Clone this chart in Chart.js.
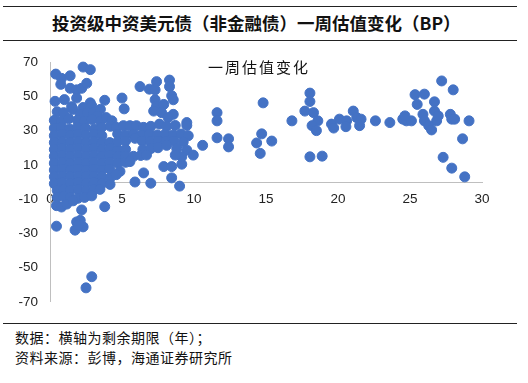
<!DOCTYPE html>
<html>
<head>
<meta charset="utf-8">
<script src="https://cdn.jsdelivr.net/npm/chart.js@4"></script>
<style>
  body { margin: 0; background: #fff; width: 528px; height: 383px; position: relative; overflow: hidden;
         font-family: "Noto Sans CJK SC", sans-serif; color: #111; }
  .rule { position: absolute; left: 3px; width: 514px; height: 1px; background: #222; }
  #title { position: absolute; left: 52px; top: 12px; font-size: 17.5px; font-weight: bold; white-space: nowrap; line-height: 22px; }
  #inner { position: absolute; left: 208px; top: 57px; font-size: 15px; letter-spacing: 2px; white-space: nowrap; line-height: 20px; }
  .note { position: absolute; left: 15px; font-size: 14px; letter-spacing: 0.5px; white-space: nowrap; line-height: 18px; }
  #wrap { position: absolute; left: 0; top: 42px; width: 528px; height: 280px; }
</style>
</head>
<body>
<div class="rule" style="top:6px"></div>
<div id="title">投资级中资美元债（非金融债）一周估值变化（BP）</div>
<div class="rule" style="top:40px"></div>
<div id="wrap"><canvas id="chart" width="528" height="280"></canvas></div>
<div id="inner">一周估值变化</div>
<div class="rule" style="top:323px"></div>
<div class="note" style="top:328px">数据：横轴为剩余期限（年）；</div>
<div class="note" style="top:348px">资料来源：彭博，海通证券研究所</div>
<script>
// [剩余期限(年), 一周估值变化(BP)]
const shortTop = [
  [0.4, 63], [0.8, 60.5], [1.4, 62], [2.3, 67.1], [2.8, 65.6],
  [0.75, 57], [1.4, 54.7], [1.85, 53.8], [2.2, 54.7], [2.55, 57.6],
  [0.35, 47.1], [1.0, 48.1], [1.85, 49], [2.8, 46.2], [3.8, 47.7],
  [1.5, 44], [2.3, 43.5], [2.9, 44.5]
];

const shortCore = [
  [0.5, 41], [0.95, 40.5], [1.6, 42.4], [2.1, 39.5], [2.6, 40.5], [3.0, 40.5], [3.5, 42.4], [3.3, 38.5],
  [0.3, 36], [0.8, 35.5], [1.3, 37], [1.9, 36], [2.4, 35.5], [2.9, 36.5], [3.5, 35.5], [3.9, 37.6], [4.3, 35.7],
  [0.3, 31.5], [0.8, 32], [1.35, 31], [1.9, 32], [2.45, 31.5], [3.1, 31], [3.6, 32], [4.2, 32.5], [4.6, 31.9],
  [0.3, 27], [0.85, 28], [1.4, 27], [1.95, 28], [2.5, 27], [3.05, 28], [3.6, 27],
  [0.3, 23], [0.85, 23.5], [1.4, 23], [1.95, 23.5], [2.5, 23], [3.05, 23.5], [3.6, 23], [4.15, 23],
  [0.3, 19], [0.85, 19.5], [1.4, 19], [1.95, 19.5], [2.5, 19], [3.05, 19.5], [3.6, 19], [4.15, 19.5], [4.7, 19],
  [0.3, 15], [0.85, 15.5], [1.4, 15], [1.95, 15.5], [2.5, 15], [3.05, 15.5], [3.6, 15], [4.15, 15.5], [4.7, 15],
  [0.3, 11], [0.85, 11.5], [1.4, 11], [1.95, 11.5], [2.5, 11], [3.05, 11.5], [3.6, 11], [4.15, 11.5], [4.7, 11],
  [0.3, 7], [0.85, 7.5], [1.4, 7], [1.95, 7.5], [2.5, 7], [3.05, 7.5], [3.6, 7], [4.15, 7.5], [4.86, 6.2],
  [0.3, 3], [0.85, 3.5], [1.4, 3], [1.95, 3.5], [2.5, 3], [3.05, 3.5], [3.6, 3], [4.17, 2.4], [4.6, 4.3],
  [0.3, -1], [0.85, -0.5], [1.4, -1], [1.95, -0.5], [2.5, -1], [3.05, -0.5], [3.6, -1], [4.17, -1.4],
  [0.5, -5], [0.95, -4.5], [1.4, -5], [1.95, -4.5], [2.5, -5], [3.05, -4.5], [3.47, -4.3],
  [0.5, -9], [0.95, -8.5], [1.4, -9], [1.95, -9.5], [2.4, -9], [2.9, -8.1],
  [0.45, -13.8], [0.8, -14.6], [1.16, -12.9], [1.6, -11]
];

const shortLow = [
  [2.2, -16.3], [3.8, -14.4], [0.45, -25.8], [1.85, -23.3], [2.1, -22.4],
  [1.74, -28.1], [2.3, -26.2], [1.97, -25.2], [2.9, -55.3], [2.5, -61.8]
];

const midCurve = [
  [5.0, 49], [5.15, 42.7], [6.25, 55.7], [6.9, 54.2], [7.3, 53.8], [7.4, 58.6],
  [8.3, 59.5], [8.3, 55.7], [8.45, 50.4], [8.56, 48], [7.3, 48], [7.4, 44.3], [7.9, 45.3],
  [7.2, 41.4], [7.75, 40.5], [8.56, 39.5], [8.2, 37.6], [9.5, 34.7],
  [5.1, 32.9], [5.55, 32.9], [6.0, 32.9], [6.5, 31.9], [7.0, 32.5], [7.6, 33.8], [8.1, 32.5], [8.7, 33], [9.5, 33],
  [4.7, 28], [5.25, 27.5], [5.8, 28], [6.35, 27.5], [6.9, 28], [7.45, 27.5], [8.0, 28], [8.55, 27.5], [9.1, 28], [9.6, 27],
  [4.7, 23.5], [5.25, 24], [5.9, 25.5], [6.4, 24], [6.95, 23.5], [7.5, 24], [8.05, 23.5], [8.6, 24], [9.25, 23.3],
  [5.25, 19], [6.45, 19], [7.0, 19.5], [7.5, 20], [8.1, 21.4], [8.8, 19.5],
  [5.25, 15], [5.8, 15], [6.3, 15.5], [6.7, 15.7],
  [5.25, 11.5], [5.55, 11.9], [6.5, 5.3], [5.9, 0], [7.0, -0.7],
  [7.9, 9], [8.45, 9], [9.15, 10.4], [8.45, 2.4], [9.0, -2.4],
  [9.5, 18.6], [9.15, 14.7], [8.7, 15.7], [9.95, 15.7], [10.6, 21.4]
];

const longEnd = [
  [11.6, 40.5], [11.6, 35.7], [11.6, 25.8], [12.4, 25.2], [12.4, 20.5],
  [14.8, 46.2], [14.7, 28.1], [14.35, 22.8], [15.4, 23.9], [14.6, 16.7],
  [16.8, 35.7],
  [18.05, 51.9], [18.05, 47], [17.7, 41.4], [18.3, 40.5], [18.6, 35.7], [18.2, 32.9], [18.5, 30],
  [18.05, 14.7], [18.9, 15.1],
  [19.55, 33.8], [19.7, 31.5], [20.1, 36.7], [20.6, 35.7], [20.55, 32.3],
  [21.06, 41.4], [21.3, 37.6], [21.6, 36.7], [21.5, 32.9],
  [22.6, 35.7], [23.6, 34.7],
  [24.5, 36.7], [24.75, 35.7], [25.1, 35.7], [24.65, 38.6],
  [25.35, 51], [26.0, 51.3], [25.5, 45.3], [27.2, 59], [28.0, 53.8],
  [26.7, 46.8], [26.7, 41.4], [25.9, 39.5], [26.0, 35.7], [26.3, 32.9], [26.5, 30.4],
  [26.85, 35.7], [26.96, 38.6], [27.8, 39.5], [27.9, 36.7], [28.1, 36.7],
  [29.1, 35.7], [28.65, 25.2], [27.3, 14.4], [27.9, 8.1], [28.8, 3]
];

const xTicks = [0, 5, 10, 15, 20, 25, 30];
const yTicks = [-70, -50, -30, -10, 10, 30, 50, 70];

const points = shortTop.concat(shortCore, shortLow, midCurve, longEnd)
  .map(p => ({ x: p[0], y: p[1] }));

const tickFont = { family: '"Liberation Sans", Arial, sans-serif', size: 13.5 };

new Chart(document.getElementById('chart'), {
  type: 'scatter',
  data: {
    datasets: [{
      label: '一周估值变化',
      data: points,
      backgroundColor: '#4472C4',
      borderColor: '#4472C4',
      borderWidth: 1,
      pointRadius: 5,
      clip: false
    }]
  },
  options: {
    responsive: false,
    animation: false,
    devicePixelRatio: 1,
    layout: { padding: { left: 0, right: 46, top: 18, bottom: 17 } },
    plugins: { legend: { display: false }, tooltip: { enabled: false } },
    scales: {
      x: {
        type: 'linear',
        position: { y: 0 },
        min: 0, max: 30,
        afterBuildTicks: s => { s.ticks = xTicks.map(v => ({ value: v })); },
        grid: { display: false, drawTicks: false },
        border: { display: true, color: '#BFBFBF', width: 1 },
        ticks: { color: '#222', font: tickFont, padding: 9, maxRotation: 0 }
      },
      y: {
        type: 'linear',
        position: 'left',
        min: -70, max: 70,
        afterBuildTicks: s => { s.ticks = yTicks.map(v => ({ value: v })); },
        afterFit: s => { s.width = 50; },
        grid: { display: false, drawTicks: false },
        border: { display: true, color: '#BFBFBF', width: 1 },
        ticks: { color: '#222', font: tickFont, padding: 12 }
      }
    }
  }
});
</script>
</body>
</html>
